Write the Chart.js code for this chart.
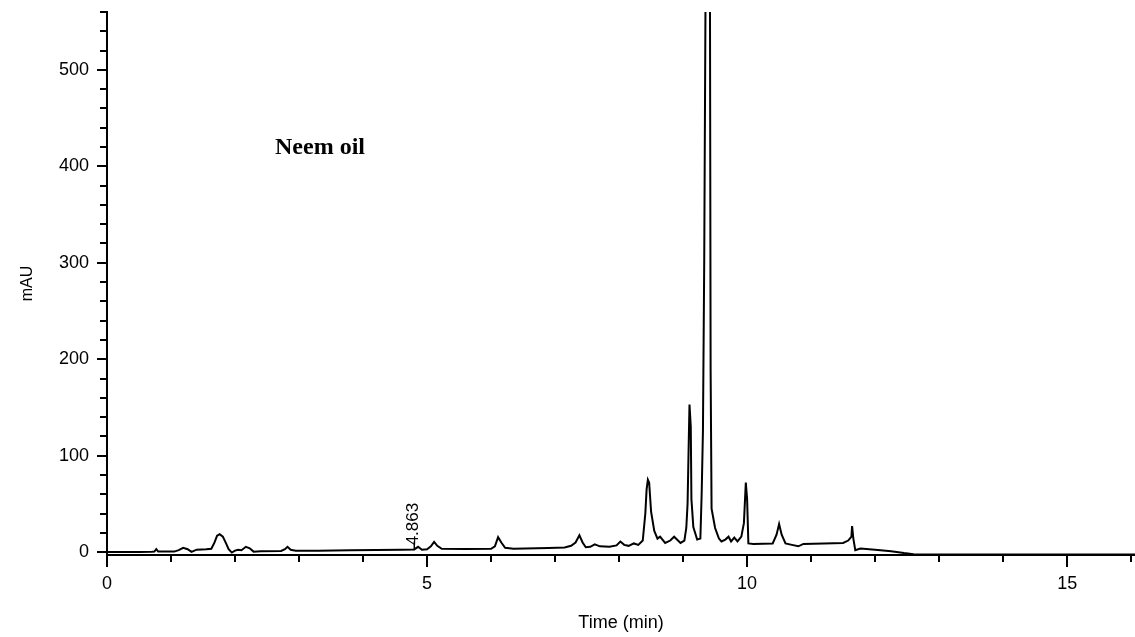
<!DOCTYPE html>
<html>
<head>
<meta charset="utf-8">
<script src="https://cdn.jsdelivr.net/npm/chart.js@4/dist/chart.umd.min.js"></script>
<style>
body { margin: 0; background: #fff; }
#wrap { width: 1135px; height: 637px; }
</style>
</head>
<body>
<div id="wrap"><canvas id="myChart"></canvas></div>
<script>
// chromatogram trace: retention time (min) and absorbance (mAU)
let timeValues = [0, 0.5, 0.7, 0.74, 0.77, 0.8, 1.05, 1.12, 1.19, 1.26, 1.32, 1.4, 1.55, 1.63, 1.68, 1.72, 1.76, 1.81, 1.86, 1.9,
    1.95, 2.0, 2.05, 2.1, 2.17, 2.23, 2.29, 2.4, 2.72, 2.78, 2.82, 2.87, 2.95, 3.3, 3.8, 4.2, 4.6, 4.8, 4.86, 4.92,
    5.0, 5.06, 5.11, 5.16, 5.23, 5.6, 6.0, 6.06, 6.11, 6.16, 6.22, 6.35, 6.9, 7.15, 7.25, 7.32, 7.38, 7.43, 7.48, 7.55,
    7.62, 7.7, 7.85, 7.96, 8.02, 8.08, 8.15, 8.23, 8.3, 8.37, 8.41, 8.43, 8.45, 8.47, 8.5, 8.55, 8.6, 8.64, 8.72, 8.8,
    8.86, 8.96, 9.02, 9.05, 9.07, 9.09, 9.1, 9.12, 9.13, 9.16, 9.22, 9.27, 9.29, 9.31, 9.33, 9.35, 9.42, 9.43, 9.445, 9.5,
    9.56, 9.6, 9.66, 9.71, 9.75, 9.8, 9.85, 9.91, 9.95, 9.98, 10.0, 10.02, 10.1, 10.4, 10.46, 10.5, 10.54, 10.6, 10.7, 10.8,
    10.88, 11.2, 11.5, 11.58, 11.63, 11.64, 11.66, 11.69, 11.77, 12.0, 12.25, 12.45, 12.6, 13.0, 14.0, 15.0, 16.06];
let mauValues = [0, 0, 0.3, 0.5, 3, 0.5, 0.5, 2, 4.5, 3, 0.3, 2.5, 3, 3.5, 10, 17, 18.5, 16, 9, 3,
    -0.5, 1.5, 2.5, 2, 5.5, 4, 0.5, 1, 1.2, 3, 5.5, 2.5, 1.5, 1.5, 1.8, 2.2, 2.5, 2.8, 5.5, 2.5,
    3, 6, 10.5, 6.5, 3.5, 3.2, 3.4, 6, 15.5, 10, 4.5, 3.6, 4.2, 4.8, 6.5, 10, 17.5, 10, 5, 5.5,
    8, 6, 5.5, 7, 11, 7.5, 6.5, 9, 7.5, 12, 40, 65, 75, 72, 42, 22, 14, 16, 9.5, 12,
    16, 9.5, 12, 25, 50, 120, 153, 130, 55, 26, 13, 14, 60, 125, 300, 570, 570, 190, 45, 25,
    14, 11, 13, 16, 11, 15, 11, 16, 30, 72, 55, 9, 8.5, 9, 18, 29, 18, 9, 7.5, 6,
    8.5, 9, 9.5, 12, 16, 27, 14, 2, 3.8, 2.5, 1, -1, -2.2, -2.5, -2.6, -2.5, -2.6];

let xTickLabels = [0, 5, 10, 15];
let yTickLabels = [0, 100, 200, 300, 400, 500];
let sampleName = "Neem oil";
let peakName = "4.863";
let peakTime = 4.863;

let points = [];
for (let i = 0; i < timeValues.length; i++) {
    points.push({x: timeValues[i], y: mauValues[i]});
}

// hand drawn tick marks (major + minor) and the text labels on the plot
let extras = {
    id: "extras",
    afterDraw(chart) {
        let ctx = chart.ctx;
        let xs = chart.scales.x;
        let ys = chart.scales.y;
        let area = chart.chartArea;
        ctx.save();
        ctx.strokeStyle = "#000";
        ctx.lineWidth = 2;
        ctx.beginPath();
        for (let v = 0; v <= 560; v += 20) {
            let py = Math.round(ys.getPixelForValue(v));
            let len = v % 100 == 0 ? 10 : 7;
            ctx.moveTo(area.left - len, py);
            ctx.lineTo(area.left, py);
        }
        for (let t = 0; t <= 16; t++) {
            let px = Math.round(xs.getPixelForValue(t));
            let len = t % 5 == 0 ? 12 : 7;
            ctx.moveTo(px, area.bottom);
            ctx.lineTo(px, area.bottom + len);
        }
        ctx.stroke();

        // retention time marker
        let mx = xs.getPixelForValue(peakTime) - 4;
        ctx.lineWidth = 1.5;
        ctx.beginPath();
        ctx.moveTo(mx, ys.getPixelForValue(11));
        ctx.lineTo(mx, ys.getPixelForValue(2));
        ctx.stroke();
        ctx.translate(mx - 1, ys.getPixelForValue(7));
        ctx.rotate(-Math.PI / 2);
        ctx.fillStyle = "#000";
        ctx.font = "17px 'Liberation Sans', Arial";
        ctx.textAlign = "left";
        ctx.textBaseline = "middle";
        ctx.fillText(peakName, 0, 0);
        ctx.restore();

        ctx.save();
        ctx.fillStyle = "#000";
        ctx.font = "bold 24px 'Liberation Serif', 'Times New Roman'";
        ctx.textBaseline = "alphabetic";
        ctx.fillText(sampleName, 275, 154);
        ctx.restore();
    }
};

new Chart("myChart", {
    type: "line",
    data: {
        datasets: [{
            data: points,
            borderColor: "#000",
            borderWidth: 2,
            pointRadius: 0,
            tension: 0,
            fill: false
        }]
    },
    options: {
        responsive: true,
        maintainAspectRatio: false,
        animation: false,
        layout: {padding: {top: 12, left: 0, right: 0, bottom: 0}},
        plugins: {
            legend: {display: false},
            tooltip: {enabled: false}
        },
        scales: {
            x: {
                type: "linear",
                min: 0,
                max: 16.06,
                afterFit: function(scale) {
                    scale.height = 82;
                    scale.paddingLeft = 0;
                    scale.paddingRight = 0;
                },
                border: {display: true, color: "#000", width: 2},
                grid: {display: false, drawTicks: false},
                ticks: {
                    stepSize: 5,
                    includeBounds: false,
                    autoSkip: false,
                    maxRotation: 0,
                    padding: 18,
                    color: "#000",
                    font: {family: "'Liberation Sans', Arial", size: 18},
                    callback: function(v) { return xTickLabels.includes(v) ? String(v) : ""; }
                },
                title: {
                    display: true,
                    text: "Time (min)",
                    color: "#000",
                    font: {family: "'Liberation Sans', Arial", size: 18},
                    padding: {top: 0, bottom: 3}
                }
            },
            y: {
                min: -3,
                max: 560,
                afterFit: function(scale) {
                    scale.width = 107;
                    scale.paddingTop = 0;
                    scale.paddingBottom = 0;
                },
                border: {display: true, color: "#000", width: 2},
                grid: {display: false, drawTicks: false},
                ticks: {
                    stepSize: 100,
                    includeBounds: false,
                    padding: 18,
                    color: "#000",
                    font: {family: "'Liberation Sans', Arial", size: 18},
                    callback: function(v) { return yTickLabels.includes(v) ? String(v) : ""; }
                },
                title: {
                    display: true,
                    text: "mAU",
                    color: "#000",
                    font: {family: "'Liberation Sans', Arial", size: 16},
                    padding: {top: 18, bottom: 18}
                }
            }
        }
    },
    plugins: [extras]
});
</script>
</body>
</html>
